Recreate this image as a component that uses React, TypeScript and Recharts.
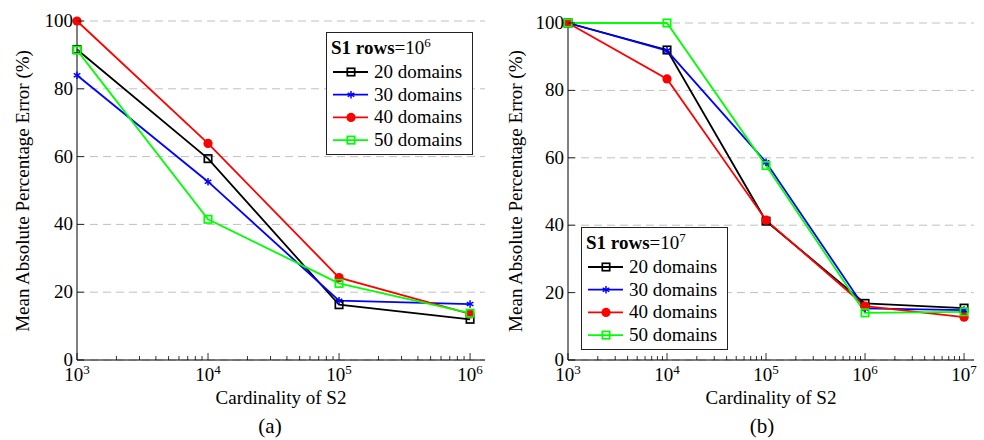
import React from 'react';
import { LineChart, Line, XAxis, YAxis, CartesianGrid, Legend } from 'recharts';

const FONT = '"Liberation Serif", "Times New Roman", serif';
const FS = 19;
const EXP_FS = 13;

// (a) S1 rows = 10^6
const cardA = [1e3, 1e4, 1e5, 1e6];
const a20 = [91.6, 59.4, 16.3, 12.0];
const a30 = [84.0, 52.6, 17.5, 16.5];
const a40 = [100, 63.9, 24.3, 13.6];
const a50 = [91.4, 41.5, 22.6, 13.8];

// (b) S1 rows = 10^7
const cardB = [1e3, 1e4, 1e5, 1e6, 1e7];
const b20 = [100, 92.0, 41.2, 16.8, 15.4];
const b30 = [100, 91.8, 58.7, 15.3, 14.8];
const b40 = [100, 83.4, 41.5, 16.0, 12.7];
const b50 = [100, 100, 57.7, 14.0, 14.3];

const yTicks = [0, 20, 40, 60, 80, 100];
const seriesNames = ['20 domains', '30 domains', '40 domains', '50 domains'];
const seriesKeys = ['d20', 'd30', 'd40', 'd50'];
const seriesColors = ['#000000', '#0000ff', '#ff0000', '#00ff00'];
const seriesMarks = ['square', 'star', 'circle', 'square'];

const rowsA = cardA.map((c, i) => ({ card: c, d20: a20[i], d30: a30[i], d40: a40[i], d50: a50[i] }));
const rowsB = cardB.map((c, i) => ({ card: c, d20: b20[i], d30: b30[i], d40: b40[i], d50: b50[i] }));

// major + minor log ticks between 10^lo and 10^hi
function logTicks(lo: number, hi: number) {
  const out: number[] = [];
  for (let e = lo; e < hi; e++) for (let k = 1; k < 10; k++) out.push(k * 10 ** e);
  out.push(10 ** hi);
  return out;
}

function isMajor(v: number) {
  const l = Math.log10(v);
  return Math.abs(l - Math.round(l)) < 1e-6;
}

function Mark({ kind, color, cx, cy }: any) {
  if (cx == null || cy == null) return null;
  if (kind === 'circle') return <circle cx={cx} cy={cy} r={4.6} fill={color} />;
  if (kind === 'square')
    return <rect x={cx - 3.7} y={cy - 3.7} width={7.4} height={7.4} fill="none" stroke={color} strokeWidth={1.7} />;
  const r = 3.8;
  return (
    <g stroke={color} strokeWidth={1.5}>
      {[90, 30, 150].map((a) => {
        const t = (a * Math.PI) / 180;
        return <line key={a} x1={cx - r * Math.cos(t)} y1={cy - r * Math.sin(t)} x2={cx + r * Math.cos(t)} y2={cy + r * Math.sin(t)} />;
      })}
    </g>
  );
}

const BottomTick = ({ x, y, payload }: any) => {
  const v = payload.value;
  const major = isMajor(v);
  return (
    <g>
      <line x1={x} x2={x} y1={y} y2={y - (major ? 7 : 4)} stroke="#000" strokeWidth={0.8} />
      {major && (
        <text x={x} y={y + 21} textAnchor="middle" fontFamily={FONT} fontSize={FS} fill="#000">
          10<tspan dy={-7} fontSize={EXP_FS}>{Math.round(Math.log10(v))}</tspan>
        </text>
      )}
    </g>
  );
};

const TopTick = ({ x, y, payload }: any) => {
  const major = isMajor(payload.value);
  return <line x1={x} x2={x} y1={y} y2={y + (major ? 7 : 4)} stroke="#000" strokeWidth={0.8} />;
};

const LeftTick = ({ x, y, payload }: any) => (
  <g>
    <line x1={x} x2={x + 7} y1={y} y2={y} stroke="#000" strokeWidth={0.8} />
    <text x={x - 4} y={y + 6} textAnchor="end" fontFamily={FONT} fontSize={FS} fill="#000">
      {payload.value}
    </text>
  </g>
);

const RightTick = ({ x, y }: any) => <line x1={x} x2={x - 7} y1={y} y2={y} stroke="#000" strokeWidth={0.8} />;

function LegendBox({ exp }: { exp: number }) {
  return (
    <svg width={147} height={123} style={{ display: 'block' }}>
      <rect x={0.5} y={0.5} width={146} height={122} fill="#fff" stroke="#222" strokeWidth={1} />
      <text x={5} y={22} fontFamily={FONT} fontSize={FS} fill="#000">
        <tspan fontWeight="bold">S1 rows</tspan>=10<tspan dy={-7} fontSize={EXP_FS}>{exp}</tspan>
      </text>
      {seriesNames.map((n, i) => {
        const cy = 40 + i * 22.7;
        return (
          <g key={n}>
            <line x1={7} x2={42} y1={cy} y2={cy} stroke={seriesColors[i]} strokeWidth={1.8} />
            <Mark kind={seriesMarks[i]} color={seriesColors[i]} cx={25} cy={cy} />
            <text x={48} y={cy + 6} fontFamily={FONT} fontSize={FS} fill="#000">
              {n}
            </text>
          </g>
        );
      })}
    </svg>
  );
}

function Panel({ rows, xMax, hi, margin, yWidth, legendPos, exp }: any) {
  const xt = logTicks(3, hi);
  const axisCommon = {
    type: 'number' as const,
    scale: 'log' as const,
    dataKey: 'card',
    domain: [1000, xMax],
    ticks: xt,
    interval: 0,
    tickSize: 0,
    tickMargin: 0,
    tickLine: false,
    axisLine: { stroke: '#000', strokeWidth: 1 },
  };
  return (
    <LineChart width={490} height={440} data={rows} margin={margin}>
      <CartesianGrid horizontal vertical={false} stroke="#c0c0c0" strokeDasharray="8 5" />
      <XAxis {...axisCommon} height={80} tick={<BottomTick />} />
      <XAxis {...axisCommon} xAxisId="top" orientation="top" height={0} tick={<TopTick />} />
      <YAxis
        type="number"
        domain={[0, 100]}
        ticks={yTicks}
        interval={0}
        width={yWidth}
        tickSize={0}
        tickMargin={0}
        tickLine={false}
        axisLine={{ stroke: '#000', strokeWidth: 1 }}
        tick={<LeftTick />}
      />
      <YAxis
        yAxisId="right"
        orientation="right"
        type="number"
        domain={[0, 100]}
        ticks={yTicks}
        interval={0}
        width={0}
        tickSize={0}
        tickMargin={0}
        tickLine={false}
        axisLine={{ stroke: '#000', strokeWidth: 1 }}
        tick={<RightTick />}
      />
      {seriesKeys.map((k, i) => (
        <Line
          key={k}
          type="linear"
          dataKey={k}
          name={seriesNames[i]}
          stroke={seriesColors[i]}
          strokeWidth={1.8}
          isAnimationActive={false}
          activeDot={false}
          dot={(p: any) => <Mark key={`${k}-${p.index}`} kind={seriesMarks[i]} color={seriesColors[i]} cx={p.cx} cy={p.cy} />}
        />
      ))}
      <Legend
        layout="vertical"
        verticalAlign="middle"
        align="center"
        wrapperStyle={{ left: legendPos[0], top: legendPos[1], width: 147, height: 123 }}
        content={() => <LegendBox exp={exp} />}
      />
    </LineChart>
  );
}

export default function App() {
  const txt = { fontFamily: FONT, fill: '#000' };
  return (
    <div style={{ position: 'absolute', left: 0, top: 0, width: 984, height: 440, background: '#fff' }}>
      <div style={{ position: 'absolute', left: 0, top: 0 }}>
        <Panel rows={rowsA} xMax={1.3e6} hi={6} margin={{ top: 21, right: 5, left: 0, bottom: 0 }} yWidth={77} legendPos={[326, 32]} exp={6} />
      </div>
      <div style={{ position: 'absolute', left: 494, top: 0 }}>
        <Panel rows={rowsB} xMax={1.26e7} hi={7} margin={{ top: 23, right: 10, left: 0, bottom: 0 }} yWidth={74} legendPos={[87, 227]} exp={7} />
      </div>
      <svg width={984} height={440} style={{ position: 'absolute', left: 0, top: 0, pointerEvents: 'none' }}>
        <text {...txt} x={29} y={191} fontSize={FS} textAnchor="middle" transform="rotate(-90 29 191)">
          Mean Absolute Percentage Error (%)
        </text>
        <text {...txt} x={522} y={191} fontSize={FS} textAnchor="middle" transform="rotate(-90 522 191)">
          Mean Absolute Percentage Error (%)
        </text>
        <text {...txt} x={281} y={404} fontSize={FS} textAnchor="middle">Cardinality of S2</text>
        <text {...txt} x={771} y={404} fontSize={FS} textAnchor="middle">Cardinality of S2</text>
        <text {...txt} x={270} y={433} fontSize={21} textAnchor="middle">(a)</text>
        <text {...txt} x={762} y={433} fontSize={21} textAnchor="middle">(b)</text>
      </svg>
    </div>
  );
}
